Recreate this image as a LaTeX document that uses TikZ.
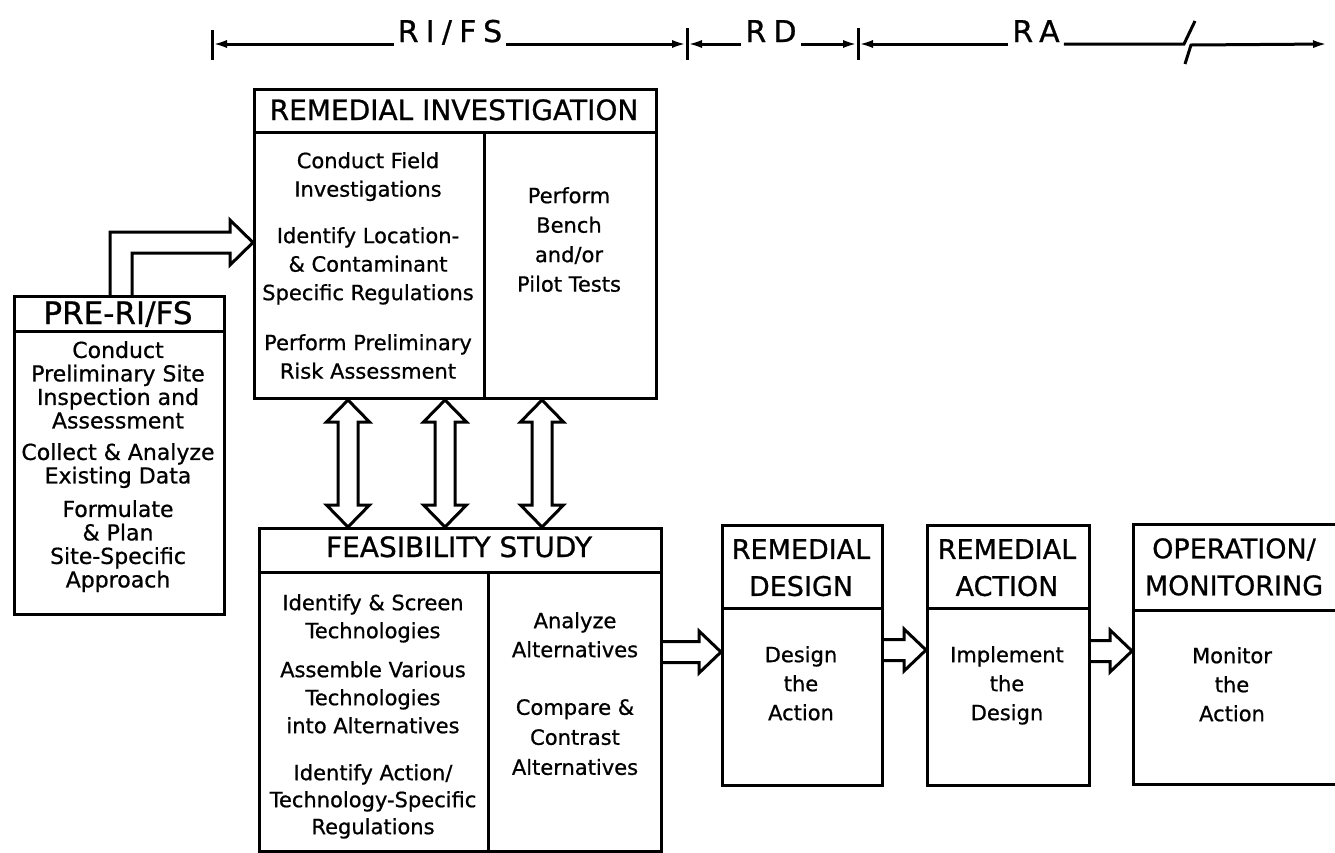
\documentclass[tikz,border=0pt]{standalone}
\usepackage{fontspec}
\setmainfont{DejaVu Sans}[FakeBold=0.8]
\newfontfamily\spanfont[LetterSpace=24,FakeBold=0.8]{DejaVu Sans}
\usetikzlibrary{calc,arrows.meta}

\begin{document}
\begin{tikzpicture}[x=1pt,y=-1pt]

    \tikzset{
      box/.style={draw, line width=3pt, inner sep=0pt, anchor=north west},
      rule/.style={line width=3pt},
      boxtitle/.style={font=\fontsize{27pt}{37pt}\selectfont, align=center, inner sep=0pt},
      bigtitle/.style={boxtitle, anchor=base, font=\fontsize{28pt}{28pt}\selectfont},
      boxtext/.style={font=\fontsize{21pt}{28.5pt}\selectfont, align=center, inner sep=0pt, anchor=north},
      pretext/.style={boxtext, font=\fontsize{22pt}{23.5pt}\selectfont},
      blockarrow/.style={line width=3pt, line join=miter},
      spanline/.style={line width=3pt},
      spanlabel/.style={font=\spanfont\fontsize{30pt}{30pt}\selectfont, inner sep=4pt, anchor=base},
      tipright/.style={-{Latex[length=15pt,width=8pt]}},
    }
    \useasboundingbox (0,0) rectangle (1335,852);
    \clip (0,0) rectangle (1335,852);

    % phase spans along the top
    \coordinate (t0) at (212,44);
    \coordinate (t1) at (687,44);
    \coordinate (t2) at (858,44);
    \coordinate (tend) at (1328,44);
    \node[spanlabel] (rifs) at (450,42) {RI/FS};
    \node[spanlabel] (rdspan) at (771,42) {RD};
    \node[spanlabel] (raspan) at (1036,42) {RA};
    \draw[spanline] (212,30) -- (212,60);
    \draw[spanline] (687,28) -- (687,60);
    \draw[spanline] (858,28) -- (858,60);
    \draw[spanline,tipright] (rifs.west |- t0) -- (t0);
    \draw[spanline,tipright] (rifs.east |- t0) -- (t1);
    \draw[spanline,tipright] (rdspan.west |- t1) -- (t1);
    \draw[spanline,tipright] (rdspan.east |- t1) -- (t2);
    \draw[spanline,tipright] (raspan.west |- t2) -- (t2);
    \draw[spanline] (raspan.east |- t2) -- (1184,44) -- (1195,21);
    \draw[spanline,tipright] (1185,64) -- (1191,45) -- (tend);

    % boxes
    \node[box, minimum width=210pt, minimum height=318pt] (pre) at (13,295) {};
    \node[box, minimum width=402pt, minimum height=309pt] (ri) at (253,88) {};
    \node[box, minimum width=402pt, minimum height=323pt] (fs) at (258,527) {};
    \node[box, minimum width=160pt, minimum height=260pt] (rd) at (721,524) {};
    \node[box, minimum width=162pt, minimum height=260pt] (ra) at (926,524) {};
    \node[box, minimum width=220pt, minimum height=260pt] (om) at (1132,523) {};

    \draw[rule] (pre.west |- 0,331) -- (pre.east |- 0,331);
    \draw[rule] (ri.west |- 0,132) -- (ri.east |- 0,132);
    \draw[rule] (484,132) -- (484,0 |- ri.south);
    \draw[rule] (fs.west |- 0,572) -- (fs.east |- 0,572);
    \draw[rule] (488,572) -- (488,0 |- fs.south);
    \foreach \b in {rd,ra}
      \draw[rule] (\b.west |- 0,608) -- (\b.east |- 0,608);
    \draw[rule] (om.west |- 0,610) -- (om.east |- 0,610);

    % PRE-RI/FS
    \node[bigtitle, font=\fontsize{31pt}{31pt}\selectfont] (pretitle) at (118,324) {PRE-RI/FS};
    \node[pretext] (pretext1) at (118,341) {Conduct\\Preliminary Site\\Inspection and\\Assessment};
    \node[pretext] (pretext2) at (118,443) {Collect \& Analyze\\Existing Data};
    \node[pretext] (pretext3) at (118,500) {Formulate\\\& Plan\\Site-Specific\\Approach};

    % remedial investigation
    \node[bigtitle] (rititle) at (454,120) {REMEDIAL INVESTIGATION};
    \node[boxtext] (ritext1) at (368,152) {Conduct Field\\Investigations};
    \node[boxtext] (ritext2) at (368,227) {Identify Location-\\\& Contaminant\\Specific Regulations};
    \node[boxtext] (ritext3) at (368,334) {Perform Preliminary\\Risk Assessment};
    \node[boxtext, font=\fontsize{21pt}{29.5pt}\selectfont] (ritests) at (569,187) {Perform\\Bench\\and/or\\Pilot Tests};

    % feasibility study
    \node[bigtitle] (fstitle) at (459,557) {FEASIBILITY STUDY};
    \node[boxtext, font=\fontsize{21pt}{28pt}\selectfont] (fstext1) at (373,594) {Identify \& Screen\\Technologies};
    \node[boxtext, font=\fontsize{21pt}{28pt}\selectfont] (fstext2) at (373,661) {Assemble Various\\Technologies\\into Alternatives};
    \node[boxtext, font=\fontsize{21pt}{27pt}\selectfont] (fstext3) at (373,764) {Identify Action/\\Technology-Specific\\Regulations};
    \node[boxtext, font=\fontsize{21pt}{29pt}\selectfont] (fsalt1) at (575,612) {Analyze\\Alternatives};
    \node[boxtext, font=\fontsize{21pt}{30pt}\selectfont] (fsalt2) at (575,699) {Compare \&\\Contrast\\Alternatives};

    % design, action, monitoring
    \node[boxtitle, anchor=north] (rdtitle) at (801,539) {REMEDIAL\\DESIGN};
    \node[boxtitle, anchor=north] (ratitle) at (1007,539) {REMEDIAL\\ACTION};
    \node[boxtitle, anchor=north] (omtitle) at (1234,538) {OPERATION/\\MONITORING};
    \node[boxtext, font=\fontsize{21pt}{29pt}\selectfont] (rdtext) at (801,646) {Design\\the\\Action};
    \node[boxtext, font=\fontsize{21pt}{29pt}\selectfont] (ratext) at (1007,646) {Implement\\the\\Design};
    \node[boxtext, font=\fontsize{21pt}{29pt}\selectfont] (omtext) at (1232,647) {Monitor\\the\\Action};

    % block arrows
    \coordinate (pretail) at (121,0 |- pre.north);
    \coordinate (pretip) at (ri.west |- 0,242.5);
    \draw[blockarrow] ($(pretail)+(-11,0)$) |- ($(pretip)+(-23,-10.5)$) -- ++(0,-12) -- (pretip)
      -- ($(pretip)+(-23,22.5)$) -- ++(0,-12) -| ($(pretail)+(11,0)$);

    \foreach \cx [count=\i] in {348,445,542} {
      \coordinate (up\i) at (\cx,0 |- ri.south);
      \coordinate (dn\i) at (\cx,0 |- fs.north);
      \draw[blockarrow] (up\i) -- ++(21.5,22) -- ++(-11.5,0) -- ($(dn\i)+(10,-22)$) -- ++(11.5,0)
        -- (dn\i) -- ++(-21.5,-22) -- ++(11.5,0) -- ($(up\i)+(-10,22)$) -- ++(-11.5,0) -- cycle;
    }

    \foreach \from/\to/\ay in {fs/rd/652, rd/ra/650, ra/om/651} {
      \coordinate (tail) at (\from.east |- 0,\ay);
      \coordinate (head) at (\to.west |- 0,\ay);
      \draw[blockarrow] ($(tail)+(0,-10.5)$) -- ($(head)+(-22,-10.5)$) -- ++(0,-10.5) -- (head)
        -- ($(head)+(-22,21)$) -- ++(0,-10.5) -- ($(tail)+(0,10.5)$);
    }

\end{tikzpicture}
\end{document}
